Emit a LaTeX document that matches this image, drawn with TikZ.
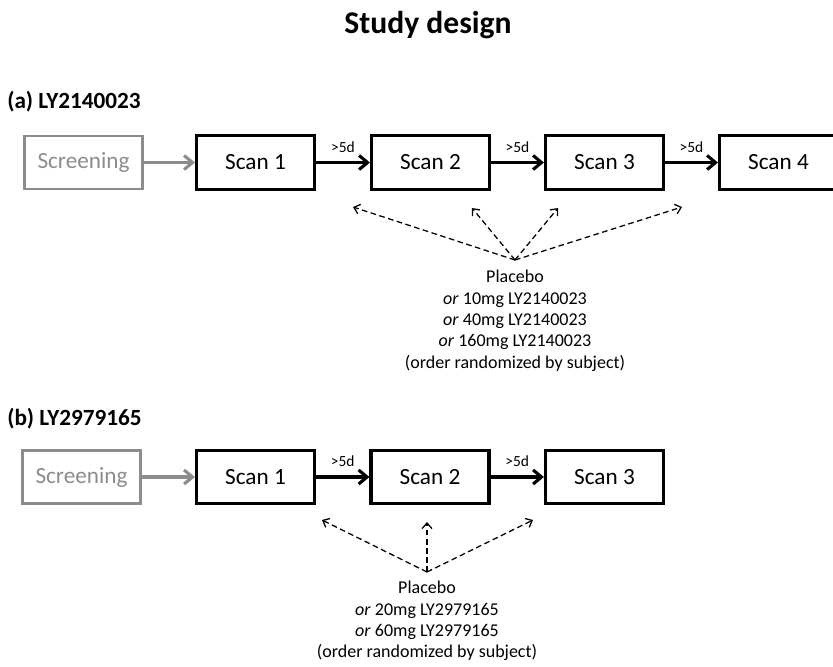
\documentclass[tikz,border=0pt]{standalone}
\usepackage{fontspec}
\setmainfont{Carlito}
\usetikzlibrary{arrows.meta,positioning}
\definecolor{screenGray}{RGB}{140,140,140}

\begin{document}
\begin{tikzpicture}[x=0.025cm,y=-0.025cm]
\tikzstyle{scanBox} = [draw, line width=2.2pt, minimum width=2.95cm, minimum height=1.33cm,
   inner sep=0pt, font=\fontsize{16.5}{20}\selectfont]
\tikzstyle{screenBox} = [scanBox, draw=screenGray, line width=1.6pt, text=screenGray]
\tikzstyle{stepArrow} = [line width=2.2pt, -{Straight Barb[length=6pt,width=10pt]}]
\tikzstyle{gapLabel} = [midway, above=6pt, inner sep=0pt, font=\fontsize{11}{13}\selectfont]
\tikzstyle{doseArrow} = [line width=0.9pt, dash pattern=on 4pt off 2.5pt,
   -{Straight Barb[length=4pt,width=7pt]}]
\tikzstyle{doseText} = [align=center, inner sep=0pt, anchor=north, font=\fontsize{12.8}{15.2}\selectfont]
\tikzstyle{heading} = [inner sep=0pt, anchor=base west, font=\bfseries\fontsize{16.5}{20}\selectfont]
\clip (0,0) rectangle (833,666);

\node[inner sep=0pt, anchor=base, font=\bfseries\fontsize{22.5}{27}\selectfont] at (428,33) (title){Study design};

\node[heading] at (7,108) (headA){(a) LY2140023};

\node[screenBox] at (83.5,162.5) (screenA){Screening};
\node[scanBox] at (255.5,162.5) (scanA1){Scan 1};
\node[scanBox] at (430.5,162.5) (scanA2){Scan 2};
\node[scanBox] at (604.5,162.5) (scanA3){Scan 3};
\node[scanBox] at (778.5,162.5) (scanA4){Scan 4};

\draw [stepArrow, screenGray](screenA) -- (scanA1);
\draw [stepArrow](scanA1) -- node[gapLabel]{>5d} (scanA2);
\draw [stepArrow](scanA2) -- node[gapLabel]{>5d} (scanA3);
\draw [stepArrow](scanA3) -- node[gapLabel]{>5d} (scanA4);

\coordinate (hubA) at (515,260);
\coordinate (tipA1) at (353,207);
\coordinate (tipA2) at (472,208);
\coordinate (tipA3) at (558,208);
\coordinate (tipA4) at (682,207);
\foreach \t in {1,...,4}
   \draw [doseArrow](hubA) -- (tipA\t);

\node[doseText] at (515,270) (doseA){Placebo\\ \textit{or} 10mg LY2140023\\ \textit{or} 40mg LY2140023\\
   \textit{or} 160mg LY2140023\\ (order randomized by subject)};

\node[heading] at (7,425) (headB){(b) LY2979165};

\node[screenBox] at (81.5,477) (screenB){Screening};
\node[scanBox] at (255.5,477) (scanB1){Scan 1};
\node[scanBox] at (430,477) (scanB2){Scan 2};
\node[scanBox] at (604.5,477) (scanB3){Scan 3};

\draw [stepArrow, screenGray](screenB) -- (scanB1);
\draw [stepArrow](scanB1) -- node[gapLabel]{>5d} (scanB2);
\draw [stepArrow](scanB2) -- node[gapLabel]{>5d} (scanB3);

\coordinate (hubB) at (427,572);
\coordinate (tipB1) at (322,520);
\coordinate (tipB2) at (427,522);
\coordinate (tipB3) at (533,520);
\foreach \t in {1,...,3}
   \draw [doseArrow](hubB) -- (tipB\t);

\node[doseText] at (427,581) (doseB){Placebo\\ \textit{or} 20mg LY2979165\\ \textit{or} 60mg LY2979165\\
   (order randomized by subject)};
\end{tikzpicture}
\end{document}
